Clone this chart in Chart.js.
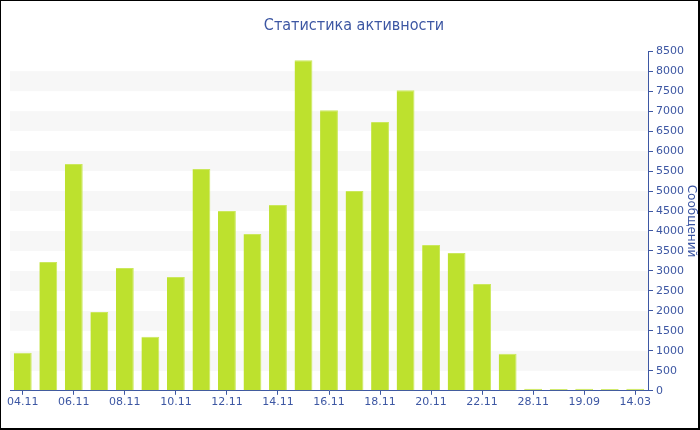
<!DOCTYPE html>
<html>
<head>
<meta charset="utf-8">
<script src="https://cdn.jsdelivr.net/npm/chart.js@4/dist/chart.umd.min.js"></script>
<style>
html,body{margin:0;padding:0;background:#fff;}
#wrap{width:700px;height:430px;box-sizing:border-box;border:1px solid #000;border-right-width:2px;border-bottom-width:2px;position:relative;}
canvas{display:block;}
</style>
</head>
<body>
<div id="wrap"><canvas id="c" width="697" height="427"></canvas></div>
<script>
const categories = ["04.11","05.11","06.11","07.11","08.11","09.11","10.11","11.11","12.11","13.11","14.11","15.11","16.11","17.11","18.11","19.11","20.11","21.11","22.11","23.11","28.11","30.11","19.09","05.02","14.03"];
const messages = [950,3225,5675,1975,3075,1350,2850,5550,4500,3925,4650,8275,7025,5000,6725,7525,3650,3450,2675,925,50,45,50,45,50];
const yTicks = {min:0, max:8500, step:500};
const chartTitle = "Статистика активности";
const yTitle = "Сообщений";

const BLUE = '#3d57a3';
const bands = {
  id:'bands',
  beforeDatasetsDraw(chart){
    const y = chart.scales.y, a = chart.chartArea, ctx = chart.ctx;
    ctx.save();
    ctx.fillStyle = '#f7f7f7';
    for(let v = yTicks.step; v < yTicks.max; v += 2*yTicks.step){
      const t = y.getPixelForValue(v + yTicks.step), b = y.getPixelForValue(v);
      ctx.fillRect(a.left, t, a.right - a.left, b - t);
    }
    ctx.restore();
  }
};

new Chart(document.getElementById('c'), {
  type:'bar',
  data:{labels:categories, datasets:[{data:messages, backgroundColor:'#bde12e', borderColor:'#cbe85c', borderWidth:{left:0,right:1,top:1,bottom:0}, barPercentage:0.7, categoryPercentage:1}]},
  plugins:[bands],
  options:{
    responsive:false, animation:false,
    layout:{padding:{left:9,right:0,top:0,bottom:18}},
    plugins:{
      legend:{display:false}, tooltip:{enabled:false},
      title:{display:true, text:chartTitle, color:BLUE, font:{family:'"DejaVu Sans Condensed", "DejaVu Sans"', size:16, weight:'normal'}, padding:{top:15,bottom:16}}
    },
    scales:{
      x:{
        grid:{display:true, drawOnChartArea:false, offset:false, color:BLUE, tickLength:4},
        border:{display:true, color:BLUE, width:1},
        ticks:{autoSkip:false, maxRotation:0, color:BLUE, padding:1, font:{family:'"DejaVu Sans"', size:11},
          callback:function(v,i){ return i%2===0 ? this.getLabelForValue(v) : null; }}
      },
      y:{
        position:'right', min:yTicks.min, max:yTicks.max,
        grid:{drawOnChartArea:false, color:BLUE, tickLength:5},
        border:{display:true, color:BLUE, width:1},
        ticks:{stepSize:250, color:BLUE, padding:3, font:{family:'"DejaVu Sans"', size:11},
          callback:(v)=> v % yTicks.step === 0 ? String(v) : ''},
        title:{display:true, text:yTitle, color:BLUE, padding:0, font:{family:'"DejaVu Sans"', size:12}},
        afterFit:(s)=>{ s.width = 50; }
      }
    }
  }
});
</script>
</body>
</html>
